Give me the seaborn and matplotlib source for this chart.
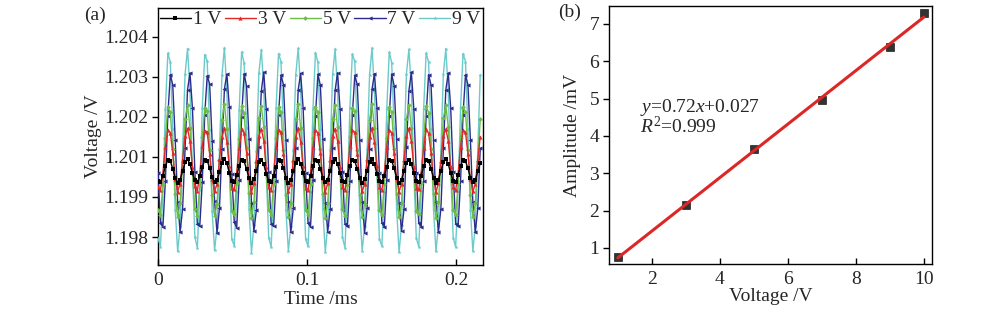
import numpy as np
import pandas as pd
import matplotlib
matplotlib.use("Agg")
import matplotlib.pyplot as plt
import seaborn as sns

# ---------------- data ----------------
# panel (a): sampled signal, offsets from 1.2 V in mV
dt_ms = 0.00165
n_pts = 132
v1_mv = [-0.32, -0.35, -0.16, 0.12, 0.31, 0.28, 0.05, -0.23, -0.37, -0.28, -0.02, 0.24, 0.33, 0.19, -0.09,
         -0.30, -0.36, -0.18, 0.10, 0.30, 0.29, 0.07, -0.21, -0.36, -0.30, -0.04, 0.22, 0.34, 0.21, -0.07,
         -0.33, -0.34, -0.15, 0.13, 0.32, 0.27, 0.04, -0.24, -0.38, -0.27, -0.01, 0.25, 0.32, 0.18, -0.10,
         -0.31, -0.35, -0.17, 0.11, 0.31, 0.28, 0.06, -0.22, -0.37, -0.29, -0.03, 0.23, 0.33, 0.20, -0.08,
         -0.32, -0.36, -0.16, 0.12, 0.30, 0.27, 0.05, -0.23, -0.36, -0.28, -0.02, 0.24, 0.34, 0.19, -0.09,
         -0.33, -0.35, -0.14, 0.14, 0.32, 0.28, 0.04, -0.24, -0.37, -0.27, -0.01, 0.25, 0.33, 0.18, -0.10,
         -0.31, -0.34, -0.17, 0.11, 0.31, 0.29, 0.06, -0.22, -0.38, -0.29, -0.03, 0.23, 0.32, 0.20, -0.08,
         -0.32, -0.35, -0.16, 0.12, 0.30, 0.28, 0.05, -0.23, -0.37, -0.28, -0.02, 0.24, 0.33, 0.19, -0.09,
         -0.31, -0.36, -0.15, 0.13, 0.31, 0.27, 0.06, -0.22, -0.36, -0.29, -0.03, 0.23]
v3_mv = [-0.51, -0.59, -0.08, 0.70, 1.21, 1.13, 0.51, -0.25, -0.64, -0.40, 0.31, 1.02, 1.26, 0.87, 0.11,
         -0.48, -0.61, -0.10, 0.73, 1.19, 1.15, 0.49, -0.27, -0.62, -0.42, 0.33, 1.00, 1.28, 0.85, 0.13,
         -0.53, -0.57, -0.06, 0.68, 1.23, 1.11, 0.53, -0.23, -0.66, -0.38, 0.29, 1.04, 1.24, 0.89, 0.09,
         -0.50, -0.60, -0.09, 0.71, 1.20, 1.14, 0.50, -0.26, -0.63, -0.41, 0.32, 1.01, 1.27, 0.86, 0.12,
         -0.52, -0.58, -0.07, 0.69, 1.22, 1.12, 0.52, -0.24, -0.65, -0.39, 0.30, 1.03, 1.25, 0.88, 0.10,
         -0.49, -0.60, -0.09, 0.72, 1.20, 1.14, 0.50, -0.26, -0.63, -0.41, 0.32, 1.01, 1.27, 0.86, 0.12,
         -0.51, -0.59, -0.08, 0.70, 1.21, 1.13, 0.51, -0.25, -0.64, -0.40, 0.31, 1.02, 1.26, 0.87, 0.11,
         -0.53, -0.57, -0.06, 0.68, 1.23, 1.11, 0.53, -0.23, -0.66, -0.38, 0.29, 1.04, 1.24, 0.89, 0.09,
         -0.50, -0.60, -0.09, 0.71, 1.20, 1.14, 0.50, -0.26, -0.63, -0.41, 0.32, 1.01]
v5_mv = [-1.19, -1.34, -0.41, 0.97, 1.90, 1.75, 0.63, -0.72, -1.41, -0.98, 0.28, 1.54, 1.97, 1.28, -0.07,
         -1.16, -1.37, -0.44, 1.00, 1.87, 1.78, 0.60, -0.75, -1.38, -1.01, 0.31, 1.51, 2.00, 1.25, -0.04,
         -1.22, -1.31, -0.38, 0.94, 1.93, 1.72, 0.66, -0.69, -1.44, -0.95, 0.25, 1.57, 1.94, 1.31, -0.10,
         -1.18, -1.35, -0.42, 0.98, 1.89, 1.76, 0.62, -0.73, -1.40, -0.99, 0.29, 1.53, 1.98, 1.27, -0.06,
         -1.20, -1.33, -0.40, 0.96, 1.91, 1.74, 0.64, -0.71, -1.42, -0.97, 0.27, 1.55, 1.96, 1.29, -0.08,
         -1.17, -1.36, -0.43, 0.99, 1.88, 1.77, 0.61, -0.74, -1.39, -1.00, 0.30, 1.52, 1.99, 1.26, -0.05,
         -1.19, -1.34, -0.41, 0.97, 1.90, 1.75, 0.63, -0.72, -1.41, -0.98, 0.28, 1.54, 1.97, 1.28, -0.07,
         -1.21, -1.32, -0.39, 0.95, 1.92, 1.73, 0.65, -0.70, -1.43, -0.96, 0.26, 1.56, 1.95, 1.30, -0.09,
         -1.18, -1.35, -0.42, 0.98, 1.89, 1.76, 0.62, -0.73, -1.40, -0.99, 0.29, 1.53]
v7_mv = [-0.07, -1.59, -1.69, -0.31, 1.64, 2.87, 2.56, 0.92, -0.96, -1.85, -1.15, 0.67, 2.41, 2.92, 1.86,
         -0.04, -1.62, -1.66, -0.34, 1.67, 2.84, 2.59, 0.89, -0.93, -1.88, -1.12, 0.64, 2.44, 2.89, 1.89,
         -0.10, -1.56, -1.72, -0.28, 1.61, 2.90, 2.53, 0.95, -0.99, -1.82, -1.18, 0.70, 2.38, 2.95, 1.83,
         -0.06, -1.60, -1.68, -0.32, 1.65, 2.86, 2.57, 0.91, -0.95, -1.86, -1.14, 0.66, 2.42, 2.91, 1.87,
         -0.08, -1.58, -1.70, -0.30, 1.63, 2.88, 2.55, 0.93, -0.97, -1.84, -1.16, 0.68, 2.40, 2.93, 1.85,
         -0.05, -1.61, -1.67, -0.33, 1.66, 2.85, 2.58, 0.90, -0.94, -1.87, -1.13, 0.65, 2.43, 2.90, 1.88,
         -0.09, -1.57, -1.71, -0.29, 1.62, 2.89, 2.54, 0.94, -0.98, -1.83, -1.17, 0.69, 2.39, 2.94, 1.84,
         -0.07, -1.59, -1.69, -0.31, 1.64, 2.87, 2.56, 0.92, -0.96, -1.85, -1.15, 0.67, 2.41, 2.92, 1.86,
         -0.06, -1.60, -1.68, -0.32, 1.65, 2.86, 2.57, 0.91, -0.95, -1.86, -1.14, 0.66]
v9_mv = [-2.03, -2.29, -0.63, 1.85, 3.51, 3.25, 1.24, -1.18, -2.43, -1.66, 0.61, 2.88, 3.65, 2.40, -0.02,
         -2.00, -2.33, -0.60, 1.88, 3.47, 3.28, 1.21, -1.21, -2.40, -1.69, 0.64, 2.85, 3.68, 2.37, 0.01,
         -2.07, -2.26, -0.66, 1.82, 3.55, 3.22, 1.27, -1.15, -2.47, -1.63, 0.58, 2.91, 3.62, 2.43, -0.05,
         -2.02, -2.30, -0.62, 1.86, 3.50, 3.26, 1.23, -1.19, -2.42, -1.67, 0.62, 2.87, 3.66, 2.39, -0.01,
         -2.05, -2.28, -0.64, 1.84, 3.53, 3.24, 1.25, -1.17, -2.45, -1.65, 0.60, 2.89, 3.64, 2.41, -0.03,
         -2.01, -2.32, -0.61, 1.87, 3.48, 3.27, 1.22, -1.20, -2.41, -1.68, 0.63, 2.86, 3.67, 2.38, 0.00,
         -2.06, -2.27, -0.65, 1.83, 3.54, 3.23, 1.26, -1.16, -2.46, -1.64, 0.59, 2.90, 3.63, 2.42, -0.04,
         -2.03, -2.29, -0.63, 1.85, 3.51, 3.25, 1.24, -1.18, -2.43, -1.66, 0.61, 2.88, 3.65, 2.40, -0.02,
         -2.02, -2.30, -0.62, 1.86, 3.50, 3.26, 1.23, -1.19, -2.42, -1.67, 0.62, 2.87]
series_labels = ["1 V", "3 V", "5 V", "7 V", "9 V"]
a_xticks = [0, 0.1, 0.2]
a_xticklabels = ["0", "0.1", "0.2"]
a_yticks = [1.198, 1.1992, 1.2004, 1.2016, 1.2028, 1.204]
a_yticklabels = ["1.198", "1.199", "1.201", "1.202", "1.203", "1.204"]

# panel (b): amplitude vs voltage
b_voltage = [1, 3, 5, 7, 9, 10]
b_amplitude = [0.75, 2.15, 3.65, 4.97, 6.38, 7.28]
b_xticks = [2, 4, 6, 8, 10]
b_yticks = [1, 2, 3, 4, 5, 6, 7]

# ---------------- style ----------------
sns.set_style("ticks")
plt.rcParams["font.family"] = ["Liberation Serif", "DejaVu Serif"]
plt.rcParams["mathtext.fontset"] = "custom"
plt.rcParams["mathtext.rm"] = "Liberation Serif"
plt.rcParams["mathtext.it"] = "Liberation Serif:italic"
FS = 14

fig = plt.figure(figsize=(10, 3.15), dpi=100)
ax1 = fig.add_axes([0.158, 0.1587, 0.325, 0.816])
ax2 = fig.add_axes([0.609, 0.162, 0.323, 0.819])

t_ms = np.arange(n_pts) * dt_ms
colors = ["#000000", "#e02a2a", "#6bbf45", "#2c2c8e", "#6ccaca"]
markers = ["s", "^", "D", "<", "*"]
msizes = [2.6, 3.0, 2.4, 3.0, 3.2]
zorders = [7, 6, 5, 4, 3]
for vals, lab, c, m, ms, z in zip([v1_mv, v3_mv, v5_mv, v7_mv, v9_mv], series_labels,
                                   colors, markers, msizes, zorders):
    y = 1.2 + np.asarray(vals) / 1000.0
    sns.lineplot(x=t_ms, y=y, ax=ax1, color=c, marker=m, markersize=ms,
                 markeredgewidth=0, linewidth=1.0, label=lab, zorder=z)

ax1.set_xlim(0, 0.218)
ax1.set_ylim(1.19716, 1.20487)
ax1.set_xticks(a_xticks)
ax1.set_xticklabels(a_xticklabels)
ax1.set_yticks(a_yticks)
ax1.set_yticklabels(a_yticklabels)
ax1.set_xlabel("Time /ms", fontsize=FS)
ax1.set_ylabel("Voltage /V", fontsize=FS)
ax1.xaxis.set_label_coords(0.5, -0.10)
ax1.yaxis.set_label_coords(-0.172, 0.5)
ax1.legend(loc="upper left", bbox_to_anchor=(-0.004, 1.0), ncol=5, frameon=False,
           handlelength=1.6, handletextpad=0.1, columnspacing=0.18,
           borderaxespad=0.05, borderpad=0.1, fontsize=FS)

sns.regplot(x=b_voltage, y=b_amplitude, ax=ax2, ci=None, marker="s",
            scatter_kws=dict(color="black", s=40, edgecolors="black", linewidths=0.5, zorder=3),
            line_kws=dict(color="#dd2626", linewidth=2.2, zorder=4))
ax2.set_xlim(0.74, 10.24)
ax2.set_ylim(0.57, 7.48)
ax2.set_xticks(b_xticks)
ax2.set_yticks(b_yticks)
ax2.set_xlabel("Voltage /V", fontsize=FS)
ax2.set_ylabel("Amplitude /mV", fontsize=FS)
ax2.xaxis.set_label_coords(0.5, -0.095)
ax2.yaxis.set_label_coords(-0.088, 0.5)
ax2.text(1.65, 4.76, r"$y$=0.72$x$+0.027", fontsize=FS, va="center", ha="left")
ax2.text(1.65, 4.24, r"$R^2$=0.999", fontsize=FS, va="center", ha="left")

for ax in (ax1, ax2):
    for sp in ax.spines.values():
        sp.set_visible(True)
        sp.set_color("black")
        sp.set_linewidth(1.0)
    ax.tick_params(axis="x", direction="in", length=4, width=1, labelsize=FS, pad=5, color="black")
    ax.tick_params(axis="y", direction="out", length=4, width=1, labelsize=FS, pad=3, color="black")

fig.text(0.095, 0.952, "(a)", fontsize=FS, ha="center", va="center")
fig.text(0.570, 0.962, "(b)", fontsize=FS, ha="center", va="center")

fig.savefig("out.png", dpi=100)
